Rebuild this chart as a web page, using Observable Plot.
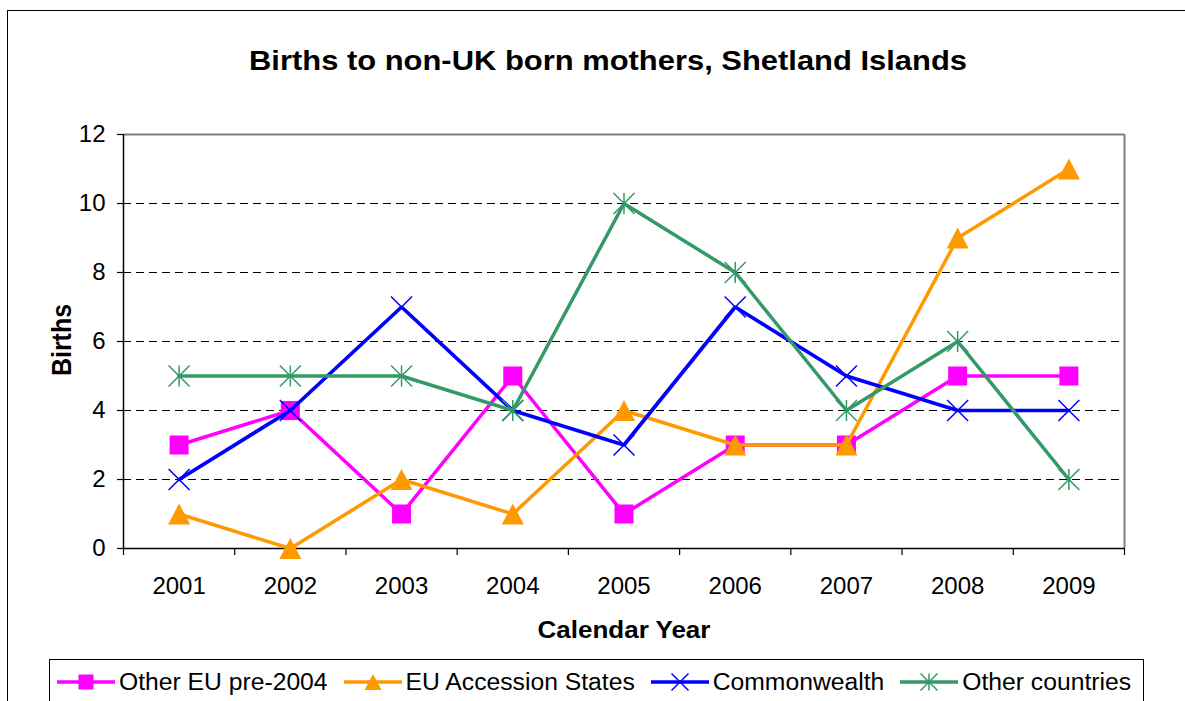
<!DOCTYPE html>
<html>
<head>
<meta charset="utf-8">
<script src="https://cdn.jsdelivr.net/npm/d3@7"></script>
<script src="https://cdn.jsdelivr.net/npm/@observablehq/plot@0.6"></script>
<style>
  html, body { margin: 0; padding: 0; background: #fff; }
  body { width: 1185px; height: 701px; overflow: hidden; position: relative; font-family: "Liberation Sans", Arial, sans-serif; }
  #frame { position: absolute; left: 7px; top: 10px; width: 1200px; height: 720px; border: 1.5px solid #000; box-sizing: border-box; }
  #chart { position: absolute; left: 0; top: 0; }
  .lbl { position: absolute; font-weight: bold; color: #000; line-height: 1; white-space: nowrap; }
  #title { font-size: 27px; left: 0; width: 1216px; text-align: center; top: 48px; transform: scaleX(1.145); transform-origin: 608px 0; }
  #xlabel { font-size: 23px; left: 0; width: 1248px; text-align: center; top: 618.5px; transform: scaleX(1.13); transform-origin: 624px 0; }
  #ylabel { font-size: 25px; left: 61px; top: 340px; transform-origin: 0 0; transform: scaleX(1.14) rotate(-90deg) translate(-50%, -50%); }
  #legend { position: absolute; left: 49px; top: 659px; width: 1095px; height: 60px; border: 1px solid #000; box-sizing: border-box; overflow: hidden; }
  #legend .items { position: absolute; left: 7px; top: 7px; height: 30px; width: 1200px; display: flex; align-items: center; white-space: nowrap; }
  #legend .item { display: flex; align-items: center; margin-right: 16px; flex-shrink: 0; white-space: nowrap; }
  #legend .item svg { flex-shrink: 0; }
  #legend .item span { font-size: 24.7px; margin-left: 4px; color: #000; white-space: nowrap; }
</style>
</head>
<body>
<div id="frame"></div>
<div id="chart"></div>
<div class="lbl" id="title">Births to non-UK born mothers, Shetland Islands</div>
<div class="lbl" id="xlabel">Calendar Year</div>
<div class="lbl" id="ylabel">Births</div>
<div id="legend"><div class="items"></div></div>
<script>
// ---- data ----
const years = [2001, 2002, 2003, 2004, 2005, 2006, 2007, 2008, 2009];
const seriesNames = ["Other EU pre-2004", "EU Accession States", "Commonwealth", "Other countries"];
const otherEUpre2004 = [3, 4, 1, 5, 1, 3, 3, 5, 5];
const euAccession = [1, 0, 2, 1, 4, 3, 3, 9, 11];
const commonwealth = [2, 4, 7, 4, 3, 7, 5, 4, 4];
const otherCountries = [5, 5, 5, 4, 10, 8, 4, 6, 2];
const yTicks = [0, 2, 4, 6, 8, 10, 12];

// ---- symbols (Excel-like markers) ----
const symSquare = { draw(ctx, size) { const h = Math.sqrt(size / Math.PI); ctx.rect(-h, -h, 2 * h, 2 * h); } };
const symTriangle = { draw(ctx, size) { const h = Math.sqrt(size / Math.PI); ctx.moveTo(0, -h * 0.95); ctx.lineTo(h, h * 0.95); ctx.lineTo(-h, h * 0.95); ctx.closePath(); } };
const symTimes = { draw(ctx, size) { const h = Math.sqrt(size / Math.PI); ctx.moveTo(-h, -h); ctx.lineTo(h, h); ctx.moveTo(-h, h); ctx.lineTo(h, -h); } };
const symStar = { draw(ctx, size) { const h = Math.sqrt(size / Math.PI); ctx.moveTo(-h, -h); ctx.lineTo(h, h); ctx.moveTo(-h, h); ctx.lineTo(h, -h); ctx.moveTo(0, -h); ctx.lineTo(0, h); } };

const styles = [
  { values: otherEUpre2004, color: "#FF00FF", symbol: symSquare, filled: true, r: 9.5, lr: 7.5, width: 3.5 },
  { values: euAccession, color: "#FF9900", symbol: symTriangle, filled: true, r: 11, lr: 8.5, width: 3.5 },
  { values: commonwealth, color: "#0000FF", symbol: symTimes, filled: false, r: 10.5, lr: 8.5, width: 3.7 },
  { values: otherCountries, color: "#339966", symbol: symStar, filled: false, r: 10.5, lr: 8.5, width: 3.5 }
];

const series = seriesNames.map((name, i) => ({
  name, ...styles[i],
  data: years.map((y, j) => ({ year: y, value: styles[i].values[j] }))
}));

const xMin = years[0] - 0.5, xMax = years[years.length - 1] + 0.5;
const boundaries = d3.range(xMin, xMax + 0.01, 1);
const gridVals = yTicks.slice(1, -1);

const marks = [
  Plot.ruleY(gridVals, { stroke: "#000", strokeWidth: 1, strokeDasharray: "8,5" }),
  Plot.ruleY([yTicks[yTicks.length - 1]], { stroke: "#808080", strokeWidth: 2 }),
  Plot.ruleX([xMax], { stroke: "#808080", strokeWidth: 2 }),
  Plot.axisY({ ticks: yTicks, tickSize: 6, tickPadding: 12, fontSize: 24, label: null, stroke: "#000", strokeWidth: 1.2 }),
  Plot.axisX({ ticks: boundaries, tickSize: 7, tickFormat: () => "", label: null, stroke: "#000", strokeWidth: 1.2 }),
  Plot.axisX({ ticks: years, tickSize: 0, tickPadding: 28, tickFormat: d => String(d), fontSize: 24, label: null }),
  Plot.ruleX([xMin], { stroke: "#000", strokeWidth: 1.5 }),
  Plot.ruleY([yTicks[0]], { stroke: "#000", strokeWidth: 1.5 })
];
for (const s of series) {
  marks.push(Plot.line(s.data, { x: "year", y: "value", stroke: s.color, strokeWidth: s.width, strokeLinejoin: "miter" }));
  marks.push(Plot.dot(s.data, {
    x: "year", y: "value", symbol: s.symbol, r: s.r,
    fill: s.filled ? s.color : "none",
    stroke: s.filled ? "none" : s.color,
    strokeWidth: s.filled ? 0 : 1.5
  }));
}

const chart = Plot.plot({
  width: 1185,
  height: 701,
  marginLeft: 123,
  marginRight: 61,
  marginTop: 134,
  marginBottom: 153,
  style: { fontFamily: "'Liberation Sans', Arial, sans-serif", fontSize: "24px", color: "#000", background: "transparent", overflow: "visible" },
  x: { domain: [xMin, xMax], axis: null },
  y: { domain: [yTicks[0], yTicks[yTicks.length - 1]], axis: null },
  marks
});
document.getElementById("chart").appendChild(chart);

// ---- legend ----
const items = d3.select("#legend .items");
for (const s of series) {
  const it = items.append("div").attr("class", "item");
  const svg = it.append("svg").attr("width", 58).attr("height", 30);
  svg.append("line").attr("x1", 0).attr("x2", 58).attr("y1", 15).attr("y2", 15)
    .attr("stroke", s.color).attr("stroke-width", 3.5);
  svg.append("path")
    .attr("transform", "translate(29,15)")
    .attr("d", d3.symbol(s.symbol, Math.PI * s.lr * s.lr)())
    .attr("fill", s.filled ? s.color : "none")
    .attr("stroke", s.filled ? "none" : s.color)
    .attr("stroke-width", 1.5);
  it.append("span").text(s.name);
}
</script>
</body>
</html>
